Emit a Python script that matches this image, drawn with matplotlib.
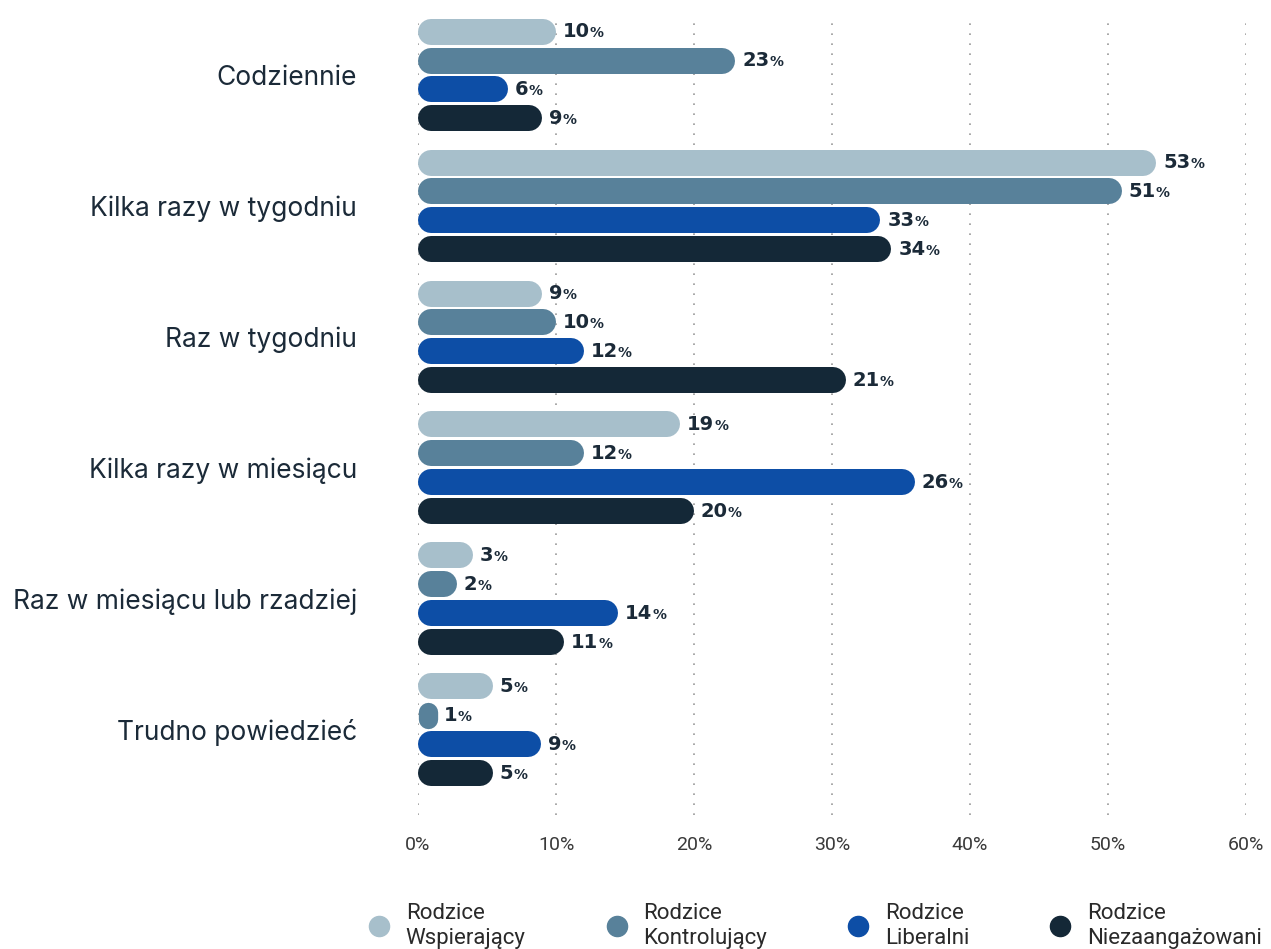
import matplotlib
matplotlib.use("Agg")
import matplotlib.pyplot as plt
from matplotlib.lines import Line2D
from matplotlib.offsetbox import TextArea, HPacker, AnnotationBbox

# Categories (top to bottom) and series
categories = ["Codziennie", "Kilka razy w tygodniu", "Raz w tygodniu",
              "Kilka razy w miesiącu", "Raz w miesiącu lub rzadziej", "Trudno powiedzieć"]
series = ["Rodzice\nWspierający", "Rodzice\nKontrolujący", "Rodzice\nLiberalni", "Rodzice\nNiezaangażowani"]
colors = ["#a7bfcb", "#58819a", "#0d4ea6", "#142837"]

# Bar lengths as drawn in the picture (%)
wspierajacy = [10, 53.5, 9, 19, 4, 5.4]
kontrolujacy = [23, 51, 10, 12, 2.8, 1.4]
liberalni = [6.5, 33.5, 12, 36, 14.5, 8.9]
niezaangazowani = [9, 34.3, 31, 20, 10.6, 5.4]

# Labels printed next to the bars
lab_wspierajacy = ["10", "53", "9", "19", "3", "5"]
lab_kontrolujacy = ["23", "51", "10", "12", "2", "1"]
lab_liberalni = ["6", "33", "12", "26", "14", "9"]
lab_niezaangazowani = ["9", "34", "21", "20", "11", "5"]

xticks = [0, 10, 20, 30, 40, 50, 60]

values = [wspierajacy, kontrolujacy, liberalni, niezaangazowani]
labels = [lab_wspierajacy, lab_kontrolujacy, lab_liberalni, lab_niezaangazowani]

W, H, DPI = 1271, 949, 100
fig = plt.figure(figsize=(W / DPI, H / DPI), dpi=DPI)
ax = fig.add_axes([418 / W, 1 - 815 / H, (1246 - 418) / W, (815 - 18) / H])
ax.set_xlim(0, 60)
ax.set_ylim(5.65, -0.435)

text_col = "#1b2a38"
offsets = [-1.5, -0.5, 0.5, 1.5]
step = 0.221
bar_px = 26
px_x = (1246 - 418) / 60          # pixels per % on x
px_y = (815 - 18) / (5.65 + 0.435)  # pixels per unit on y
radius = (bar_px / 2) / px_x
lw = bar_px * 72 / DPI

for s, (vals, labs) in enumerate(zip(values, labels)):
    for i, (v, lab) in enumerate(zip(vals, labs)):
        y = i + offsets[s] * step
        w_px = v * px_x
        if w_px >= bar_px:
            ax.plot([radius, v - radius], [y, y], color=colors[s], lw=lw,
                    solid_capstyle="round", zorder=3)
        else:
            # narrow pill: vertical stroke as wide as the bar
            dy = (bar_px - w_px) / 2 / px_y
            ax.plot([v / 2, v / 2], [y - dy, y + dy], color=colors[s], lw=w_px * 72 / DPI,
                    solid_capstyle="round", zorder=3)
        num = TextArea(lab, textprops=dict(fontsize=14, fontweight="bold", color=text_col, family="DejaVu Sans"))
        pct = TextArea("%", textprops=dict(fontsize=10, fontweight="bold", color=text_col, family="DejaVu Sans"))
        box = HPacker(children=[num, pct], align="baseline", pad=0, sep=0)
        ab = AnnotationBbox(box, (v, y), xybox=(5, 0), xycoords="data",
                            boxcoords="offset points", box_alignment=(0, 0.5), frameon=False)
        ax.add_artist(ab)

# Grid
for xt in xticks:
    ax.axvline(xt, color="#9a9a9a", lw=1.2, ls=(0, (1, 5)), zorder=1)

for sp in ax.spines.values():
    sp.set_visible(False)

ax.set_yticks(range(len(categories)))
ax.set_yticklabels(categories, fontsize=19, color=text_col, family="Inter")
ax.tick_params(axis="y", length=0, pad=44)

ax.set_xticks(xticks)
ax.set_xticklabels([f"{t}%" for t in xticks], fontsize=14, color="#3a3a3a", family="Roboto")
ax.tick_params(axis="x", length=0, pad=15)

handles = [Line2D([0], [0], marker="o", ls="none", markersize=14.5, markerfacecolor=c,
                  markeredgecolor=c) for c in colors]
fig.legend(handles, series, loc="center", bbox_to_anchor=(815 / W, 1 - 926 / H), ncol=4,
           frameon=False, prop=dict(family="Roboto", size=16), handletextpad=0.7,
           handlelength=1.0, columnspacing=3.6, labelcolor="#2a2a2a", labelspacing=0.2)

fig.savefig("out.png", dpi=DPI)
